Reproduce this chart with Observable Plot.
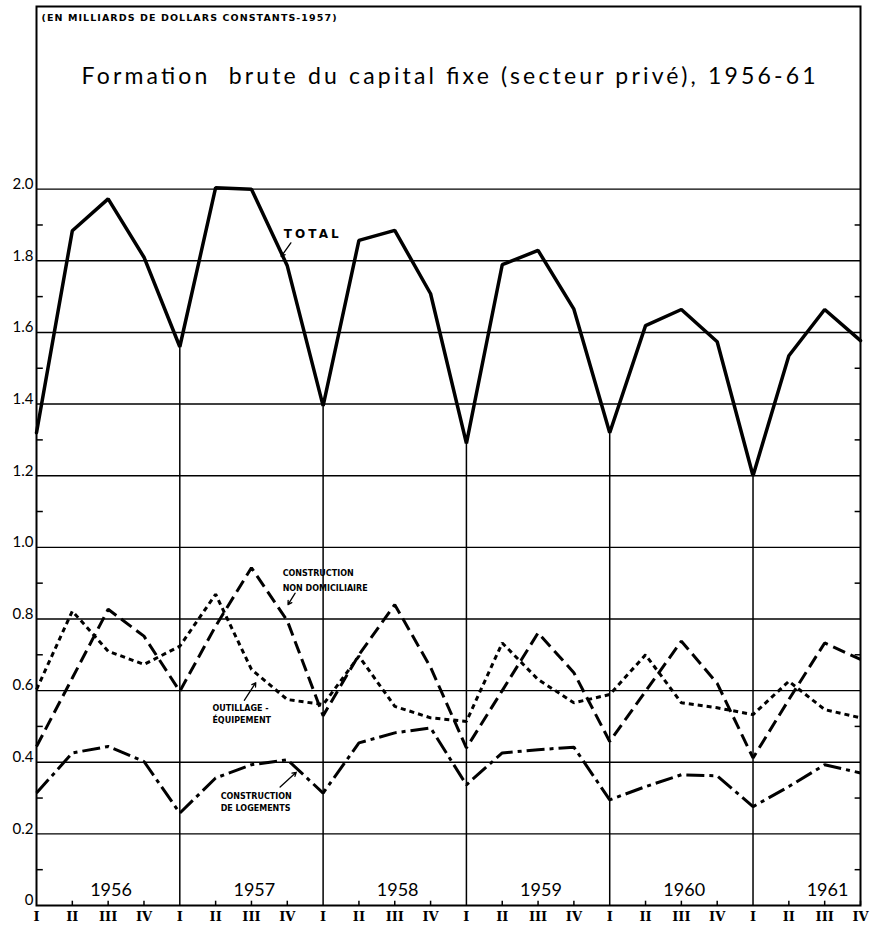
<!DOCTYPE html>
<html>
<head>
<meta charset="utf-8">
<script src="https://cdn.jsdelivr.net/npm/d3@7"></script>
<script src="https://cdn.jsdelivr.net/npm/@observablehq/plot@0.6"></script>
<style>
  html, body { margin: 0; padding: 0; background: #fff; }
  #chart svg { display: block; }
</style>
</head>
<body>
<div id="chart"></div>
<script>
// ---- data ----
const quarters = ["I", "II", "III", "IV"];
const years = [1956, 1957, 1958, 1959, 1960, 1961];
const total = [1.32, 1.884, 1.973, 1.81, 1.56, 2.004, 2.0, 1.786, 1.395, 1.857, 1.885, 1.708,
               1.29, 1.789, 1.829, 1.665, 1.32, 1.619, 1.664, 1.574, 1.20, 1.535, 1.664, 1.577];
const nonDomiciliaire = [0.444, 0.635, 0.827, 0.752, 0.598, 0.78, 0.943, 0.795, 0.53, 0.70, 0.84, 0.665,
                         0.44, 0.60, 0.761, 0.65, 0.458, 0.598, 0.738, 0.62, 0.412, 0.575, 0.733, 0.687];
const outillage = [0.603, 0.822, 0.71, 0.673, 0.724, 0.869, 0.659, 0.575, 0.561, 0.696, 0.556, 0.524,
                   0.514, 0.733, 0.631, 0.566, 0.589, 0.70, 0.566, 0.552, 0.533, 0.626, 0.547, 0.524];
const logements = [0.314, 0.426, 0.444, 0.402, 0.258, 0.356, 0.393, 0.407, 0.314, 0.454, 0.482, 0.496,
                   0.337, 0.426, 0.435, 0.442, 0.295, 0.332, 0.365, 0.362, 0.276, 0.332, 0.393, 0.37];
const yTicks = [0, 0.2, 0.4, 0.6, 0.8, 1.0, 1.2, 1.4, 1.6, 1.8, 2.0];
const minorTicks = [0.1, 0.3, 0.5, 0.7, 0.9, 1.1, 1.3, 1.5, 1.7, 1.9];
const titleText = "Formation  brute du capital fixe (secteur privé), 1956-61";
const unitText = "(EN MILLIARDS DE DOLLARS CONSTANTS-1957)";

// ---- table ----
const rows = total.map((t, i) => ({
  i, total: t, nonDom: nonDomiciliaire[i], outil: outillage[i], loge: logements[i]
}));

const numFont = "Lato, 'Open Sans', sans-serif";
const labFont = "'DejaVu Sans', sans-serif";

const chart = Plot.plot({
  width: 877,
  height: 929,
  marginLeft: 36,
  marginRight: 17,
  marginTop: 6,
  marginBottom: 24,
  x: {domain: [0, 23], label: null},
  y: {domain: [0, 2.51], label: null},
  style: {background: "white", color: "black", fontFamily: numFont},
  marks: [
    // horizontal grid
    Plot.ruleY(yTicks.filter(d => d > 0), {y: d => d, stroke: "black", strokeWidth: 1.4}),
    // year separators (drop lines from the total trough)
    Plot.ruleX(rows.filter(d => d.i % 4 === 0 && d.i > 0), {x: "i", y1: 0, y2: "total", stroke: "black", strokeWidth: 1.5}),
    // minor ticks left & right
    Plot.ruleY(minorTicks, {y: d => d, x1: 0, x2: 0.19, stroke: "black", strokeWidth: 1.5}),
    Plot.ruleY(minorTicks, {y: d => d, x1: 22.85, x2: 23, stroke: "black", strokeWidth: 1.5}),
    // quarter ticks
    Plot.ruleX(d3.range(24).filter(i => i % 4 !== 0), {x: d => d, y1: 0, y2: 0.012, stroke: "black", strokeWidth: 1.5}),
    Plot.frame({stroke: "black", strokeWidth: 2}),
    // series
    Plot.line(rows, {x: "i", y: "loge", stroke: "black", strokeWidth: 3, strokeDasharray: "18,5,4,5", strokeLinecap: "butt", strokeLinejoin: "miter"}),
    Plot.line(rows, {x: "i", y: "outil", stroke: "black", strokeWidth: 3, strokeDasharray: "5,4", strokeLinecap: "butt", strokeLinejoin: "miter"}),
    Plot.line(rows, {x: "i", y: "nonDom", stroke: "black", strokeWidth: 3, strokeDasharray: "13,6", strokeLinecap: "butt", strokeLinejoin: "miter"}),
    Plot.line(rows, {x: "i", y: "total", stroke: "black", strokeWidth: 3.5, strokeLinejoin: "miter"}),
    // axes
    Plot.axisY({ticks: yTicks, tickSize: 0, tickPadding: 3, tickFormat: d => d === 0 ? "0" : d.toFixed(1),
                fontSize: 15, dy: -5, fontFamily: numFont}),
    Plot.axisX({ticks: d3.range(24), tickSize: 0, tickPadding: 6, tickFormat: i => quarters[i % 4],
                fontSize: 13, fontWeight: "bold", fontFamily: "'DejaVu Serif', serif"}),
    // year labels
    Plot.text(years, {x: (d, k) => k * 4 + 2.08, y: 0, text: d => String(d), dy: -15, fontSize: 18, fontFamily: numFont}),
    // title & unit
    Plot.text([titleText], {frameAnchor: "top", dy: 70, fontSize: 23, lineAnchor: "middle", fontFamily: numFont}),
    Plot.text([unitText], {frameAnchor: "top-left", dx: 5, dy: 11, textAnchor: "start", lineAnchor: "middle",
                           fontSize: 9.5, fontWeight: "bold", fontFamily: labFont}),
    // annotations
    Plot.text(["TOTAL"], {x: 6.9, y: 1.873, textAnchor: "start", fontSize: 12, fontWeight: "bold", fontFamily: labFont}),
    Plot.arrow([0], {x1: 7.1, y1: 1.85, x2: 6.83, y2: 1.812, stroke: "black", strokeWidth: 1.3, headLength: 5}),
    Plot.text(["CONSTRUCTION\nNON DOMICILIAIRE"], {x: 6.87, y: 0.912, textAnchor: "start", fontSize: 8, lineHeight: 1.85, fontWeight: "bold", fontFamily: labFont}),
    Plot.arrow([0], {x1: 7.22, y1: 0.872, x2: 7.02, y2: 0.84, stroke: "black", strokeWidth: 1.3, headLength: 5}),
    Plot.text(["OUTILLAGE -\nÉQUIPEMENT"], {x: 4.91, y: 0.536, textAnchor: "start", fontSize: 8, lineHeight: 1.5, fontWeight: "bold", fontFamily: labFont}),
    Plot.arrow([0], {x1: 5.8, y1: 0.573, x2: 6.12, y2: 0.622, stroke: "black", strokeWidth: 1.3, headLength: 5}),
    Plot.text(["CONSTRUCTION\nDE LOGEMENTS"], {x: 5.14, y: 0.292, textAnchor: "start", fontSize: 8, lineHeight: 1.5, fontWeight: "bold", fontFamily: labFont}),
    Plot.arrow([0], {x1: 6.8, y1: 0.331, x2: 7.25, y2: 0.372, stroke: "black", strokeWidth: 1.3, headLength: 5})
  ]
});

chart.querySelectorAll("text").forEach(t => {
  if (t.textContent === titleText) { t.setAttribute("textLength", "734"); t.setAttribute("lengthAdjust", "spacing"); }
  if (t.textContent === unitText) { t.setAttribute("textLength", "295"); t.setAttribute("lengthAdjust", "spacing"); }
  if (t.textContent === "TOTAL") { t.setAttribute("textLength", "55"); t.setAttribute("lengthAdjust", "spacing"); }
});

document.getElementById("chart").appendChild(chart);
</script>
</body>
</html>
